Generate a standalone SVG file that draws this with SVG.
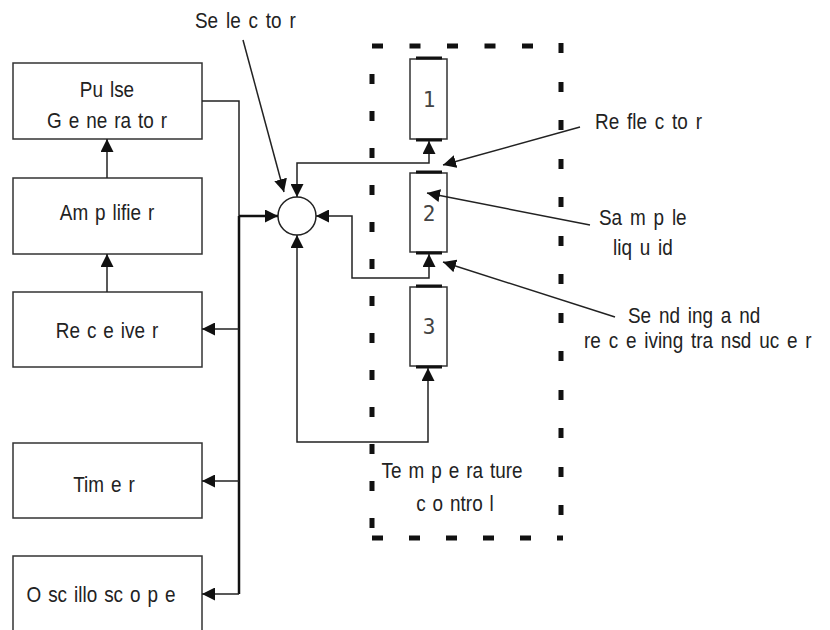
<svg xmlns="http://www.w3.org/2000/svg" width="830" height="630" viewBox="0 0 830 630">
<defs>
<marker id="ah" viewBox="0 0 12 12" refX="12" refY="6" markerWidth="13" markerHeight="13" markerUnits="userSpaceOnUse" orient="auto-start-reverse">
<path d="M0,0 L12,6 L0,12 Z" fill="#111"/>
</marker>
<style>
.box{fill:#fff;stroke:#333;stroke-width:1.5}
.tube{fill:#fff;stroke:#333;stroke-width:1.5}
.cap{stroke:#111;stroke-width:3}
.t{font-family:"Liberation Sans",Arial,sans-serif;font-size:22px;fill:#222;text-anchor:middle;word-spacing:2px}
.tl{font-family:"Liberation Sans",Arial,sans-serif;font-size:22px;fill:#222;word-spacing:3px}
.num{font-family:"DejaVu Sans Mono","Liberation Mono",monospace;font-size:21px;fill:#444;text-anchor:middle}
.c{fill:none;stroke:#222;stroke-width:1.5}
.ct{fill:none;stroke:#111;stroke-width:2.5}
.dash{fill:none;stroke:#111;stroke-width:5}
</style>
</defs>
<rect width="830" height="630" fill="#fff"/>

<g id="pulse-generator">
<rect class="box" x="13" y="63" width="189" height="76"/>
<text class="t" transform="translate(107,97) scale(0.86,1)">Pu lse</text>
<text class="t" transform="translate(107,128) scale(0.86,1)">G e ne ra to r</text>
</g>
<g id="amplifier">
<rect class="box" x="13" y="178" width="189" height="76"/>
<text class="t" transform="translate(107,220) scale(0.86,1)">Am p lifie r</text>
</g>
<g id="receiver">
<rect class="box" x="13" y="292" width="189" height="75"/>
<text class="t" transform="translate(107,338) scale(0.86,1)">Re c e ive r</text>
</g>
<g id="timer">
<rect class="box" x="13" y="443" width="189" height="75"/>
<text class="t" transform="translate(104,492) scale(0.86,1)">Tim e r</text>
</g>
<g id="oscilloscope">
<rect class="box" x="13" y="556" width="189" height="80"/>
<text class="t" transform="translate(101,602) scale(0.86,1)">O sc illo sc o p e</text>
</g>

<g id="selector">
<circle cx="297" cy="216" r="19" fill="#fff" stroke="#222" stroke-width="1.5"/>
<text class="tl" transform="translate(195,28) scale(0.86,1)">Se le c to r</text>
</g>

<g id="temperature-control">
<line class="dash" x1="372" y1="46" x2="563" y2="46" stroke-dasharray="11 26.5"/>
<line class="dash" x1="372" y1="74" x2="372" y2="535" stroke-dasharray="10 27"/>
<line class="dash" x1="561" y1="43" x2="561" y2="535" stroke-dasharray="10 29 10 28"/>
<line class="dash" x1="372" y1="538" x2="563" y2="538" stroke-dasharray="11 26"/>
<text class="t" transform="translate(452,478) scale(0.86,1)">Te m p e ra ture</text>
<text class="t" transform="translate(455,511) scale(0.86,1)">c o ntro l</text>
</g>

<g id="tube-1">
<rect class="tube" x="410" y="59" width="37" height="80"/>
<line class="cap" x1="416" y1="58" x2="442" y2="58"/>
<line class="cap" x1="416" y1="140" x2="442" y2="140"/>
<text class="num" x="429" y="107">1</text>
</g>
<g id="tube-2">
<rect class="tube" x="410" y="173" width="37" height="79"/>
<line class="cap" x1="416" y1="172" x2="442" y2="172"/>
<line class="cap" x1="416" y1="253" x2="442" y2="253"/>
<text class="num" x="429" y="221">2</text>
</g>
<g id="tube-3">
<rect class="tube" x="410" y="287" width="37" height="79"/>
<line class="cap" x1="416" y1="286" x2="442" y2="286"/>
<line class="cap" x1="416" y1="367" x2="442" y2="367"/>
<text class="num" x="429" y="334">3</text>
</g>

<g id="labels">
<text class="tl" transform="translate(595,129) scale(0.86,1)">Re fle c to r</text>
<text class="tl" transform="translate(599,225) scale(0.86,1)">Sa m p le</text>
<text class="tl" transform="translate(613,255) scale(0.86,1)">liq u id</text>
<text class="tl" transform="translate(628,323) scale(0.86,1)">Se nd ing a nd</text>
<text class="tl" transform="translate(584,348) scale(0.86,1)">re c e iving tra nsd uc e r</text>
</g>

<g id="connectors">
<line class="c" x1="107" y1="178" x2="107" y2="139" marker-end="url(#ah)"/>
<line class="c" x1="107" y1="292" x2="107" y2="254" marker-end="url(#ah)"/>
<path class="c" d="M202,101 H239 V216"/>
<path class="ct" d="M239,216 V594"/>
<line class="ct" x1="239" y1="216" x2="278" y2="216" marker-end="url(#ah)"/>
<line class="c" x1="239" y1="329" x2="202" y2="329" marker-end="url(#ah)"/>
<line class="c" x1="239" y1="481" x2="202" y2="481" marker-end="url(#ah)"/>
<line class="c" x1="239" y1="594" x2="202" y2="594" marker-end="url(#ah)"/>
<path class="c" d="M297,197 V163 H429 V141" marker-start="url(#ah)" marker-end="url(#ah)"/>
<path class="c" d="M316,216 H352 V278 H429 V254" marker-start="url(#ah)" marker-end="url(#ah)"/>
<path class="c" d="M297,235 V442 H428 V368" marker-start="url(#ah)" marker-end="url(#ah)"/>
<line class="c" x1="243" y1="40" x2="284" y2="192" marker-end="url(#ah)"/>
<line class="c" x1="580" y1="127" x2="443" y2="165" marker-end="url(#ah)"/>
<line class="c" x1="590" y1="225" x2="427" y2="193" marker-end="url(#ah)"/>
<line class="c" x1="615" y1="317" x2="443" y2="262" marker-end="url(#ah)"/>
</g>
</svg>
